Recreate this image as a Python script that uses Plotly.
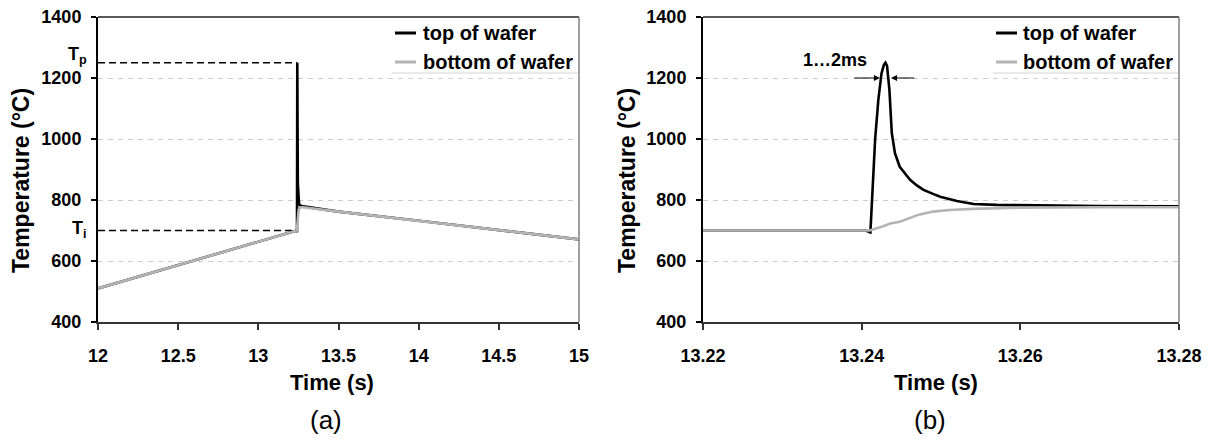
import plotly.graph_objects as go

# ---- data -------------------------------------------------------------
# pre-heat ramp (both sides of the wafer identical)
t_ramp = [12.0, 13.2405]
temp_ramp = [510, 700]

# flash pulse, fine time resolution
t_top = [13.22, 13.2405, 13.2411, 13.2417, 13.2421, 13.2425, 13.2428, 13.2430,
         13.2432, 13.2435, 13.2438, 13.2442, 13.2448, 13.2455, 13.2461, 13.2470,
         13.2478, 13.2490, 13.2499, 13.2520, 13.2541, 13.2570, 13.2600, 13.2650,
         13.2700, 13.2800]
temp_top = [700, 700, 694, 1000, 1128, 1215, 1243, 1250,
            1240, 1160, 1019, 953, 909, 884, 866, 847,
            833, 820, 811, 797, 787, 784, 783, 781,
            780, 779]

t_bottom = [13.22, 13.2410, 13.2425, 13.2436, 13.2448, 13.2457, 13.2472, 13.2490,
            13.2511, 13.2540, 13.2574, 13.2600, 13.2700, 13.2800]
temp_bottom = [700, 700, 712, 723, 729, 738, 752, 762,
               767, 771, 774, 775, 776, 776]

# cool-down after the pulse
t_tail = [13.5, 14.0, 14.5, 15.0]
temp_tail = [762, 732, 701, 671]

T_peak = 1250
T_init = 700
t_peak = 13.2430

x_ticks_a = [12, 12.5, 13, 13.5, 14, 14.5, 15]
x_labels_a = ["12", "12.5", "13", "13.5", "14", "14.5", "15"]
x_ticks_b = [13.22, 13.24, 13.26, 13.28]
x_labels_b = ["13.22", "13.24", "13.26", "13.28"]
y_ticks = [400, 600, 800, 1000, 1200, 1400]
y_labels = ["400", "600", "800", "1000", "1200", "1400"]

series_names = ["top of wafer", "bottom of wafer"]

# ---- styling ----------------------------------------------------------
W, H = 1216, 439
FONT = "Arial, Liberation Sans, Helvetica, sans-serif"
BLACK = "#000000"
GREY = "#b4b4b4"
LINE_W = 2.6


def px(x):
    return x / W


def py(y):
    return 1 - y / H


# ---- panel (a): combine ramp, pulse and tail --------------------------
def pulse_part(ts, vs):
    return [(t, v) for t, v in zip(ts, vs) if t >= t_ramp[-1]]


top_a = list(zip(t_ramp, temp_ramp)) + pulse_part(t_top, temp_top)[1:] + list(zip(t_tail, temp_tail))
bot_a = list(zip(t_ramp, temp_ramp)) + pulse_part(t_bottom, temp_bottom) + list(zip(t_tail, temp_tail))

fig = go.Figure()

# reference levels T_p and T_i
fig.add_trace(go.Scatter(x=[12.0, t_peak], y=[T_peak, T_peak], mode="lines",
                         line=dict(color=BLACK, width=1.6, dash="7px,4px"),
                         xaxis="x", yaxis="y", showlegend=False, hoverinfo="skip"))
fig.add_trace(go.Scatter(x=[12.0, t_ramp[-1]], y=[T_init, T_init], mode="lines",
                         line=dict(color=BLACK, width=1.6, dash="7px,4px"),
                         xaxis="x", yaxis="y", showlegend=False, hoverinfo="skip"))

fig.add_trace(go.Scatter(x=[p[0] for p in top_a], y=[p[1] for p in top_a], mode="lines",
                         line=dict(color=BLACK, width=LINE_W), name=series_names[0],
                         xaxis="x", yaxis="y", showlegend=False))
fig.add_trace(go.Scatter(x=[p[0] for p in bot_a], y=[p[1] for p in bot_a], mode="lines",
                         line=dict(color=GREY, width=LINE_W), name=series_names[1],
                         xaxis="x", yaxis="y", showlegend=False))

# ---- panel (b) --------------------------------------------------------
fig.add_trace(go.Scatter(x=t_top, y=temp_top, mode="lines",
                         line=dict(color=BLACK, width=LINE_W), name=series_names[0],
                         xaxis="x2", yaxis="y2", showlegend=False))
fig.add_trace(go.Scatter(x=t_bottom, y=temp_bottom, mode="lines",
                         line=dict(color=GREY, width=LINE_W), name=series_names[1],
                         xaxis="x2", yaxis="y2", showlegend=False))

tick_font = dict(family=FONT, size=18, color=BLACK, weight="bold")
y_dom = [py(322), py(17)]


def x_axis(domain, rng, tv, tt, anchor):
    return dict(domain=domain, range=rng, tickvals=tv, ticktext=tt, anchor=anchor,
                showline=True, linecolor="#333333", linewidth=2,
                ticks="outside", ticklen=6, tickcolor="#333333", tickwidth=1.5,
                showgrid=False, zeroline=False, tickfont=tick_font,
                ticklabelstandoff=10, automargin=False, fixedrange=True)


def y_axis(anchor):
    return dict(domain=y_dom, range=[400, 1400], tickvals=y_ticks, ticktext=y_labels,
                anchor=anchor, showline=True, linecolor=BLACK, linewidth=2,
                ticks="outside", ticklen=5, tickcolor=BLACK, tickwidth=1.5,
                showgrid=True, gridcolor="#cccccc", gridwidth=1, griddash="5px,5px",
                zeroline=False, tickfont=tick_font, ticklabelstandoff=6,
                automargin=False, fixedrange=True)


shapes = []
annotations = []

for xa, ya in (("x", "y"), ("x2", "y2")):
    # frame: top and right edges of each plot area
    shapes.append(dict(type="line", xref=f"{xa} domain", yref=f"{ya} domain",
                       x0=0, x1=1, y0=1, y1=1, line=dict(color="#222222", width=1.5)))
    shapes.append(dict(type="line", xref=f"{xa} domain", yref=f"{ya} domain",
                       x0=1, x1=1, y0=0, y1=1, line=dict(color="#808080", width=1.5)))

# legends drawn in each panel
for sample_x0, text_x, box_x1 in ((395, 421, 578), (996, 1021, 1178)):
    for row, (name, color) in enumerate(zip(series_names, [BLACK, GREY])):
        yc = 33 + row * 29
        shapes.append(dict(type="line", xref="paper", yref="paper",
                           x0=px(sample_x0), x1=px(sample_x0 + 21), y0=py(yc), y1=py(yc),
                           line=dict(color=color, width=3)))
        annotations.append(dict(text=name, xref="paper", yref="paper",
                                x=px(text_x), y=py(yc), xanchor="left", yanchor="middle",
                                showarrow=False,
                                font=dict(family=FONT, size=20, color=BLACK, weight="bold")))
    shapes.append(dict(type="line", xref="paper", yref="paper",
                       x0=px(sample_x0 - 3), x1=px(box_x1), y0=py(73), y1=py(73),
                       line=dict(color="#d4d4d4", width=1)))

title_font = dict(family=FONT, size=22, color=BLACK, weight="bold")
for xc, yc in ((21, 181), (627, 181)):
    annotations.append(dict(text="Temperature (°C)", xref="paper", yref="paper",
                            x=px(xc), y=py(yc), xanchor="center", yanchor="middle",
                            textangle=-90, showarrow=False,
                            font=dict(family=FONT, size=23, color=BLACK, weight="bold")))
for xc in (332, 936):
    annotations.append(dict(text="Time (s)", xref="paper", yref="paper",
                            x=px(xc), y=py(382), xanchor="center", yanchor="middle",
                            showarrow=False, font=title_font))
for xc, lab in ((326, "(a)"), (930, "(b)")):
    annotations.append(dict(text=lab, xref="paper", yref="paper",
                            x=px(xc), y=py(420), xanchor="center", yanchor="middle",
                            showarrow=False, font=dict(family=FONT, size=26, color=BLACK)))

# T_p and T_i labels
sym_font = dict(family=FONT, size=18, color=BLACK, weight="bold")
annotations.append(dict(text="T<sub>p</sub>", xref="paper", yref="y",
                        x=px(89), y=T_peak, xanchor="right", yanchor="bottom", yshift=-6,
                        showarrow=False, font=sym_font))
annotations.append(dict(text="T<sub>i</sub>", xref="paper", yref="y",
                        x=px(89), y=T_init, xanchor="right", yanchor="bottom", yshift=-13,
                        showarrow=False, font=sym_font))

# pulse width marker
annotations.append(dict(text="1…2ms", xref="x2", yref="y2", x=13.2366, y=1200,
                        xanchor="center", yanchor="bottom", yshift=6, showarrow=False,
                        font=sym_font))
annotations.append(dict(text="", xref="x2", yref="y2", x=13.2423, y=1200,
                        ax=13.2389, ay=1200, axref="x2", ayref="y2",
                        showarrow=True, arrowhead=2, arrowsize=1.2, arrowwidth=1,
                        arrowcolor=BLACK))
annotations.append(dict(text="", xref="x2", yref="y2", x=13.2437, y=1200,
                        ax=13.2468, ay=1200, axref="x2", ayref="y2",
                        showarrow=True, arrowhead=2, arrowsize=1.2, arrowwidth=1,
                        arrowcolor=BLACK))

fig.update_layout(
    width=W, height=H, autosize=False,
    margin=dict(l=0, r=0, t=0, b=0, pad=0),
    paper_bgcolor="white", plot_bgcolor="white",
    xaxis=x_axis([px(98), px(579)], [12, 15], x_ticks_a, x_labels_a, "y"),
    yaxis=y_axis("x"),
    xaxis2=x_axis([px(703), px(1179)], [13.22, 13.28], x_ticks_b, x_labels_b, "y2"),
    yaxis2=y_axis("x2"),
    shapes=shapes, annotations=annotations,
    showlegend=False, hovermode=False,
    font=dict(family=FONT, color=BLACK),
)

fig.write_html("out.html", config={"displayModeBar": False})
